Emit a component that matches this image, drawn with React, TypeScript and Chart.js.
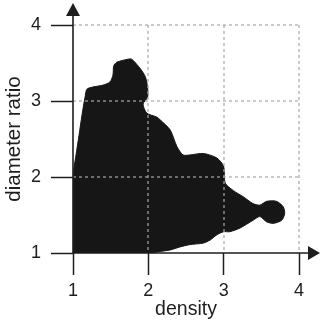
import React, { useEffect, useRef } from "react";
import { Chart, registerables } from "chart.js";
Chart.register(...registerables);

const xTicks = [1, 2, 3, 4];
const yTicks = [1, 2, 3, 4];
const xTitle = "density";
const yTitle = "diameter ratio";

// outline of the filled region (clockwise from bottom-left)
const density = [1, 1, 1.0, 1.013, 1.04, 1.08, 1.12, 1.16, 1.19, 1.4, 1.49, 1.53, 1.54, 1.58, 1.73, 1.78, 1.89, 1.96, 1.99, 1.99, 1.93, 1.98, 2.11, 2.16, 2.29, 2.38, 2.46, 2.55, 2.73, 2.91, 3.0, 3.02, 3.13, 3.26, 3.39, 3.48, 3.57, 3.7, 3.79, 3.81, 3.77, 3.66, 3.57, 3.48, 3.39, 3.22, 3.08, 3.0, 2.91, 2.82, 2.73, 2.55, 2.42, 2.29, 2.16, 2.02, 1.89, 1.05, 1];
const ratio = [1, 1.05, 2.0, 2.12, 2.29, 2.55, 2.82, 3.05, 3.16, 3.21, 3.25, 3.34, 3.46, 3.51, 3.55, 3.55, 3.43, 3.32, 3.18, 3.05, 2.96, 2.84, 2.79, 2.75, 2.62, 2.4, 2.29, 2.29, 2.31, 2.25, 2.14, 1.92, 1.82, 1.74, 1.65, 1.63, 1.68, 1.68, 1.61, 1.52, 1.43, 1.39, 1.41, 1.48, 1.43, 1.33, 1.28, 1.28, 1.24, 1.17, 1.13, 1.11, 1.08, 1.04, 1.02, 1.0, 1.0, 1.0, 1];

const FONT = "'Liberation Sans', Arial, Helvetica, sans-serif";
const INK = "#1e1e1e";

const overlay = {
  id: "overlay",
  afterDatasetsDraw(chart: any) {
    const { ctx, scales, chartArea } = chart;
    const x = scales.x;
    const y = scales.y;
    const x0 = x.getPixelForValue(xTicks[0]);
    const x1 = x.getPixelForValue(xTicks[xTicks.length - 1]);
    const y0 = y.getPixelForValue(yTicks[0]);
    const y1 = y.getPixelForValue(yTicks[yTicks.length - 1]);
    ctx.save();
    ctx.strokeStyle = "#a8a8a8";
    ctx.lineWidth = 1.2;
    ctx.setLineDash([3, 3]);
    for (const v of xTicks.slice(1)) {
      const px = Math.round(x.getPixelForValue(v));
      ctx.beginPath();
      ctx.moveTo(px, y1);
      ctx.lineTo(px, y0);
      ctx.stroke();
    }
    for (const v of yTicks.slice(1)) {
      const py = Math.round(y.getPixelForValue(v));
      ctx.beginPath();
      ctx.moveTo(x0, py);
      ctx.lineTo(x1, py);
      ctx.stroke();
    }
    ctx.setLineDash([]);
    ctx.strokeStyle = INK;
    ctx.fillStyle = INK;
    ctx.lineWidth = 1.6;
    const yTip = chartArea.top - 22;
    const xTip = chartArea.right + 21;
    ctx.beginPath();
    ctx.moveTo(x0, y0);
    ctx.lineTo(x0, yTip + 10);
    ctx.moveTo(x0, y0);
    ctx.lineTo(xTip - 10, y0);
    ctx.stroke();
    ctx.beginPath();
    ctx.moveTo(x0, yTip);
    ctx.lineTo(x0 - 7, yTip + 13);
    ctx.lineTo(x0 + 7, yTip + 13);
    ctx.closePath();
    ctx.fill();
    ctx.beginPath();
    ctx.moveTo(xTip, y0);
    ctx.lineTo(xTip - 12, y0 - 7);
    ctx.lineTo(xTip - 12, y0 + 7);
    ctx.closePath();
    ctx.fill();
    ctx.restore();
  },
};

export default function App() {
  const ref = useRef<HTMLCanvasElement>(null);
  useEffect(() => {
    const pts = density.map((d, i) => ({ x: d, y: ratio[i] }));
    const chart = new Chart(ref.current!, {
      type: "scatter",
      data: {
        datasets: [
          {
            data: pts,
            showLine: true,
            fill: "shape",
            backgroundColor: "#161616",
            borderColor: "#161616",
            borderWidth: 1,
            pointRadius: 0,
            tension: 0.25,
          } as any,
        ],
      },
      plugins: [overlay],
      options: {
        animation: false,
        responsive: false,
        events: [],
        layout: { padding: { top: 25, right: 21, left: 0, bottom: 0 } },
        plugins: { legend: { display: false }, tooltip: { enabled: false } },
        scales: {
          x: {
            type: "linear",
            min: 1,
            max: 4,
            afterFit: (s: any) => {
              s.height = 72;
            },
            afterBuildTicks: (s: any) => {
              s.ticks = xTicks.map((v) => ({ value: v }));
            },
            ticks: { color: INK, font: { family: FONT, size: 18 }, padding: 5, maxRotation: 0 },
            grid: { drawOnChartArea: false, drawTicks: true, tickLength: 22, color: INK, tickColor: INK, tickWidth: 1.5 },
            border: { display: false },
            title: { display: true, text: xTitle, color: INK, font: { family: FONT, size: 19.5, lineHeight: 1.2 }, padding: { top: 0, bottom: 4 } },
          },
          y: {
            type: "linear",
            min: 1,
            max: 4,
            afterFit: (s: any) => {
              s.width = 73;
            },
            afterBuildTicks: (s: any) => {
              s.ticks = yTicks.map((v) => ({ value: v }));
            },
            ticks: { color: INK, font: { family: FONT, size: 18 }, padding: 10 },
            grid: { drawOnChartArea: false, drawTicks: true, tickLength: 22, color: INK, tickColor: INK, tickWidth: 1.5 },
            border: { display: false },
            title: { display: true, text: yTitle, color: INK, font: { family: FONT, size: 20.5, lineHeight: 1.2 }, padding: { top: 2.5, bottom: 0 } },
          },
        },
      },
    });
    return () => chart.destroy();
  }, []);
  return (
    <canvas
      ref={ref}
      width={320}
      height={325}
      style={{ position: "fixed", left: 0, top: 0, width: 320, height: 325, display: "block" }}
    />
  );
}
